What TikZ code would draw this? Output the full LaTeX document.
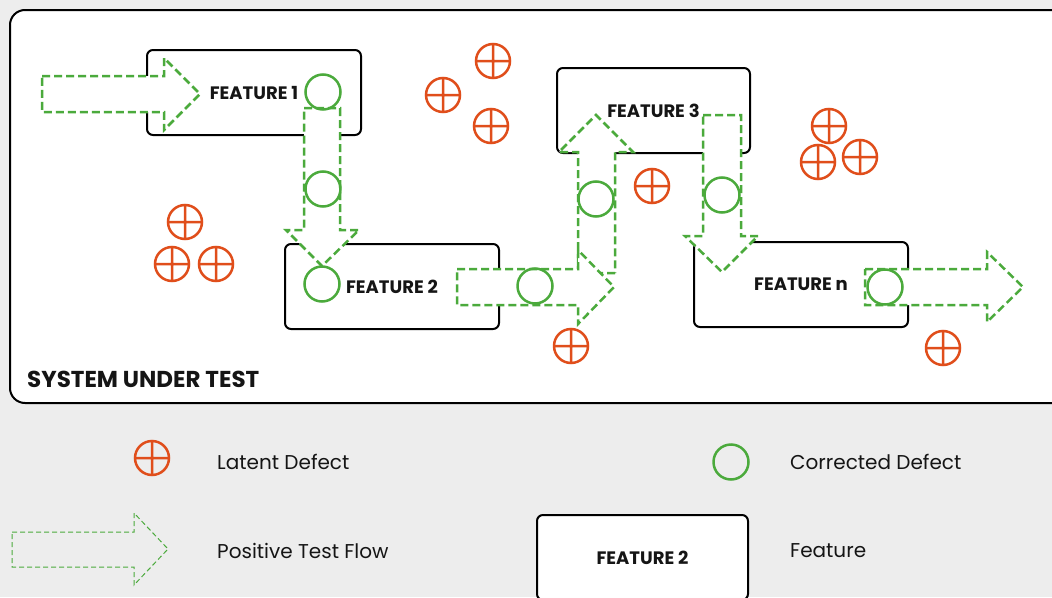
\documentclass[tikz,border=0pt]{standalone}
\usepackage{fontspec}
\setmainfont{Poppins}
\definecolor{bg}{HTML}{EDEDED}
\definecolor{grn}{HTML}{4BAA3C}
\definecolor{org}{HTML}{E04E1B}
\definecolor{ink}{HTML}{151515}
\tikzset{
 feat/.style={draw=black, line width=2pt, fill=white, rounded corners=6pt, minimum width=214pt, minimum height=85pt, font=\fontsize{18}{21}\selectfont\bfseries, text=ink, inner sep=0pt},
 flow/.style={draw=grn, fill=white, line width=2.5pt, dash pattern=on 8pt off 4pt},
 flowthin/.style={draw=grn, line width=1pt, dash pattern=on 5pt off 3pt},
 fixed/.style={draw=grn, line width=2.5pt, circle, minimum size=35pt, inner sep=0pt},
 latent/.pic={\draw[org, line width=2.5pt] (0,0) circle[radius=17pt] (-17pt,0)--(17pt,0) (0,-17pt)--(0,17pt);},
 legtext/.style={anchor=west, inner sep=0pt, text=ink, font=\fontsize{20}{24}\selectfont}
}
\begin{document}
\begin{tikzpicture}[x=1pt,y=-1pt]
\useasboundingbox (0,0) rectangle (1052,597);
\fill[bg] (0,0) rectangle (1052,597);
% system under test frame
\draw[line width=2pt, fill=white, rounded corners=15pt] (10,10) rectangle (1075,403);
\node[anchor=west, inner sep=0pt, text=ink, font=\fontsize{23}{27}\selectfont\bfseries] (sut) at (27,379) {SYSTEM UNDER TEST};
% features
\node[feat] (f1) at (254,92.5) {FEATURE 1};
\node[feat] (f2) at (392,286.5) {FEATURE 2};
\node[feat, minimum width=193pt] (f3) at (653.5,110.5) {FEATURE 3};
\node[feat] (fn) at (801,284.5) {FEATURE n};
% flows
\draw[flow] (42,76)--(164,76)--(164,58)--(200,94)--(164,130)--(164,112)--(42,112)--cycle;
\draw[flow] (304,108)--(340,108)--(340,230)--(359,230)--(322,266)--(286,230)--(304,230)--cycle;
\draw[flow] (615,273)--(578,273)--(578,152)--(559,152)--(596,115)--(633,152)--(615,152)--cycle;
\draw[flow] (457,269)--(578,269)--(578,250)--(614,287)--(578,324)--(578,305)--(457,305)--cycle;
\draw[flow] (703,115)--(741,115)--(741,236)--(758,236)--(722,272)--(685,236)--(703,236)--cycle;
\draw[flow] (865,269)--(987,269)--(987,252)--(1023,287)--(987,322)--(987,305)--(865,305)--cycle;
% corrected defects
\node[fixed] (c1) at (323,92) {};
\node[fixed] (c2) at (323,189) {};
\node[fixed] (c3) at (322,284) {};
\node[fixed] (c4) at (535,286) {};
\node[fixed] (c5) at (596,199) {};
\node[fixed] (c6) at (722,195) {};
\node[fixed] (c7) at (885,287) {};
% latent defects
\foreach \p in {(493,61),(443,95),(491,126),(185,222),(172,264),(216,264),(652,186),(829,126),(818,162),(860,157),(571,346),(943,348)}
  \pic at \p {latent};
% legend
\pic at (152,458) {latent};
\node[legtext] (l1) at (217,461.5) {Latent Defect};
\node[fixed] (lc) at (731,462) {};
\node[legtext] (l2) at (790,461.5) {Corrected Defect};
\draw[flowthin] (12,532)--(134,532)--(134,513)--(168,549)--(134,585)--(134,567)--(12,567)--cycle;
\node[legtext] (l3) at (217,550.5) {Positive Test Flow};
\node[feat, minimum width=211pt] (lf) at (642.5,557.5) {FEATURE 2};
\node[legtext] (l4) at (790,550.5) {Feature};
\end{tikzpicture}
\end{document}
